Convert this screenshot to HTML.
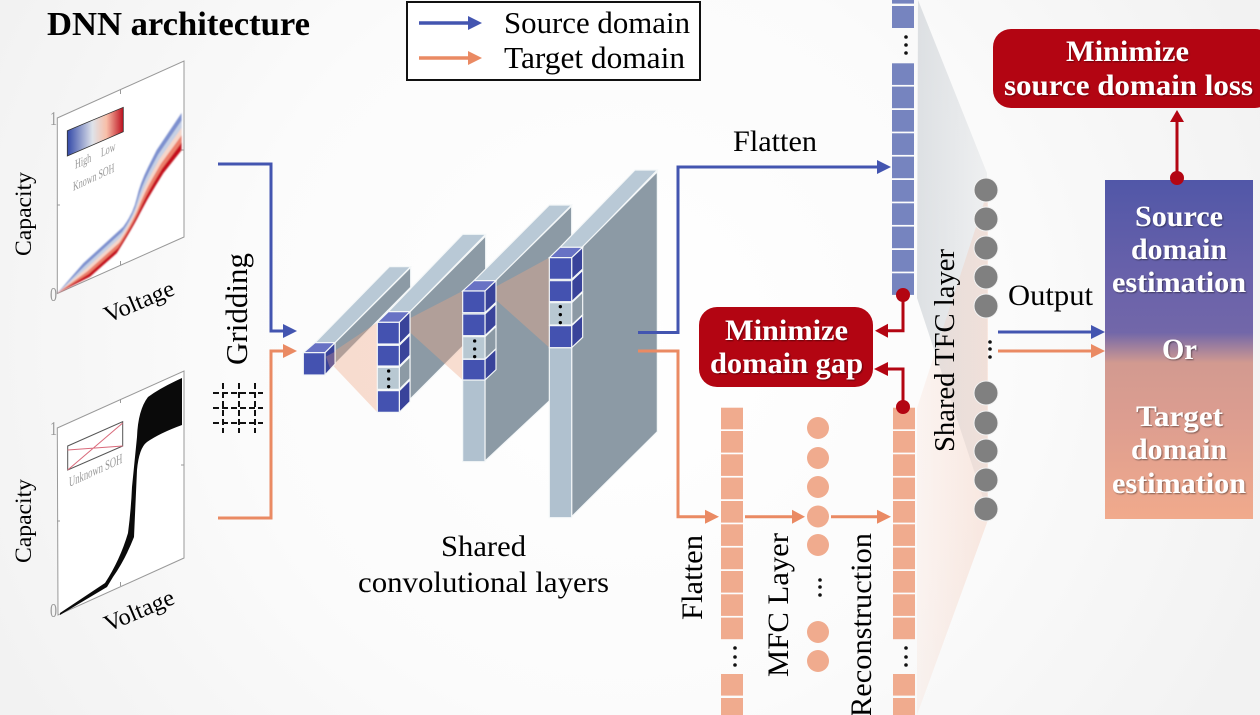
<!DOCTYPE html>
<html><head><meta charset="utf-8"><style>
html,body{margin:0;padding:0;width:1260px;height:715px;overflow:hidden;background:#f4f4f4}
svg{display:block}
text{font-family:"Liberation Serif",serif;fill:#000}
.w text{fill:#fff;font-weight:bold;font-size:30px}
</style></head><body>
<svg xmlns="http://www.w3.org/2000/svg" width="1260" height="715" viewBox="0 0 1260 715">
<defs>
<radialGradient id="bg" gradientUnits="userSpaceOnUse" cx="620" cy="340" r="700"><stop offset="0" stop-color="#ffffff"/><stop offset=".55" stop-color="#fbfbfb"/><stop offset="1" stop-color="#f2f2f2"/></radialGradient>
<linearGradient id="cb"><stop offset="0" stop-color="#3349a8"/><stop offset=".45" stop-color="#dfe3ea"/><stop offset=".7" stop-color="#f8bfa8"/><stop offset="1" stop-color="#bd0f1e"/></linearGradient>
<linearGradient id="out" x1="0" y1="0" x2="0" y2="1"><stop offset="0" stop-color="#5157a8"/><stop offset=".3" stop-color="#6a62aa"/><stop offset=".45" stop-color="#7267a9"/><stop offset=".54" stop-color="#d29a90"/><stop offset=".7" stop-color="#dc9d90"/><stop offset="1" stop-color="#f1aa8c"/></linearGradient>
<linearGradient id="gw" x1="0" y1="0" x2="1" y2="0"><stop offset="0" stop-color="#c9ced3" stop-opacity=".6"/><stop offset="1" stop-color="#c9ced3" stop-opacity=".25"/></linearGradient>
<linearGradient id="pw" x1="0" y1="0" x2="1" y2="0"><stop offset="0" stop-color="#f3b9a0" stop-opacity=".12"/><stop offset="1" stop-color="#f3b9a0" stop-opacity=".3"/></linearGradient>
<filter id="sh" x="-5%" y="-20%" width="110%" height="140%"><feDropShadow dx="1" dy="1" stdDeviation=".8" flood-color="#000" flood-opacity=".45"/></filter>
<filter id="b" x="-5%" y="-5%" width="110%" height="110%"><feGaussianBlur stdDeviation=".8"/></filter>
<clipPath id="band"><path d="M57.3 293.3L90 276.7L116.7 253.3Q133.3 226.7 140 213.3Q146.7 200 155 186.7L163.3 173.3L181.7 150L181.7 100L57.3 100Z"/></clipPath>
</defs>
<rect width="1260" height="715" fill="url(#bg)"/>

<!-- title + legend -->
<text x="47" y="35" font-size="34" font-weight="bold" textLength="263" lengthAdjust="spacingAndGlyphs">DNN architecture</text>
<rect x="407" y="2" width="293" height="78" fill="#fff" stroke="#111" stroke-width="2"/>
<path d="M419 23H470" stroke="#4355b0" stroke-width="3.5" fill="none"/><path d="M468 16L482 23L468 30Z" fill="#4355b0"/>
<path d="M419 58H470" stroke="#ea8a63" stroke-width="3.5" fill="none"/><path d="M468 51L482 58L468 65Z" fill="#ea8a63"/>
<text x="504" y="33" font-size="30.8" textLength="186" lengthAdjust="spacingAndGlyphs">Source domain</text>
<text x="504" y="68" font-size="30.8" textLength="181" lengthAdjust="spacingAndGlyphs">Target domain</text>

<!-- plot 1 -->
<polygon points="57.3,118 184,61 184,237 57.3,293.5" fill="#fff" stroke="#999" stroke-width="1"/>
<path d="M120.5 90v4M120.5 265v-4M57 205h3M184 150h-3" stroke="#999" fill="none"/>
<g filter="url(#b)"><g clip-path="url(#band)">
<path d="M57.3 293.3L83.3 263.3L123.3 226.7Q133.3 213.3 136.7 198.3Q140 183.3 148.3 166.7L156.7 150L181.7 112.7L181.7 300L57.3 300Z" fill="#7d90cf"/>
<path d="M57.3 293.3L84.6 266L122 232Q133.3 216 137.3 201.3Q141.3 186.6 149.6 170.6L158 154.7L181.7 120.2L181.7 300L57.3 300Z" fill="#c6d0e4"/>
<path d="M57.3 293.3L86 268.7L120.7 237.3Q133.3 218.7 138 204.3Q142.7 190 151 174.6L159.3 159.3L181.7 127.6L181.7 300L57.3 300Z" fill="#f6d6c9"/>
<path d="M57.3 293.3L87.3 271.4L119.3 242.7Q133.3 221.3 138.7 207.3Q144 193.3 152.3 178.6L160.7 164L181.7 135.1L181.7 300L57.3 300Z" fill="#ec7f6b"/>
<path d="M57.3 293.3L88.7 274L118 248Q133.3 224 139.3 210.3Q145.4 196.7 153.7 182.7L162 168.7L181.7 142.5L181.7 300L57.3 300Z" fill="#c5101f"/>
</g></g>
<polygon points="67.3,130.7 123.3,107.3 123.3,131.7 67.3,156" fill="url(#cb)" stroke="#333" stroke-width=".8"/>
<g font-size="13">
<text transform="matrix(.9,-.42,0,1,75,169)" style="fill:#999" textLength="18" lengthAdjust="spacingAndGlyphs">High</text>
<text transform="matrix(.9,-.42,0,1,101,157)" style="fill:#999" textLength="16" lengthAdjust="spacingAndGlyphs">Low</text>
<text transform="matrix(.9,-.42,0,1,73,191)" style="fill:#999" textLength="46" lengthAdjust="spacingAndGlyphs">Known SOH</text>
</g>
<text x="50" y="125" font-size="20" style="fill:#999" textLength="7" lengthAdjust="spacingAndGlyphs">1</text>
<text x="50" y="301" font-size="20" style="fill:#999" textLength="7" lengthAdjust="spacingAndGlyphs">0</text>
<text transform="translate(31,256) rotate(-90)" font-size="23.5" textLength="84" lengthAdjust="spacingAndGlyphs">Capacity</text>
<text transform="translate(108,323) rotate(-23)" font-size="23.5" textLength="74" lengthAdjust="spacingAndGlyphs">Voltage</text>

<!-- plot 2 -->
<polygon points="57.3,428 184,371 184,558 58,615" fill="#fff" stroke="#999" stroke-width="1"/>
<path d="M120.5 399v4M120.5 586v-4M57 521h3M184 465h-3" stroke="#999" fill="none"/>
<path d="M60 613L105 583Q120 560 128 533Q131 510 132 487L137 437Q138 410 148 397Q160 388 182 378V425Q160 433 147 442Q139 448 137 470L134 537Q125 560 113 577L107 587L60 615Z" fill="#0a0a0a"/>
<polygon points="67.7,446 122.7,421.7 122.7,446 67.7,470" fill="none" stroke="#555" stroke-width="1"/>
<path d="M67.7 470L122.7 423M67.7 450L122.7 446" stroke="#d9697a" stroke-width="1" fill="none"/>
<text transform="matrix(.92,-.42,0,1,69,487)" font-size="14" style="fill:#999" textLength="58" lengthAdjust="spacingAndGlyphs">Unknown SOH</text>
<text x="50" y="435" font-size="20" style="fill:#999" textLength="7" lengthAdjust="spacingAndGlyphs">1</text>
<text x="50" y="617" font-size="20" style="fill:#999" textLength="7" lengthAdjust="spacingAndGlyphs">0</text>
<text transform="translate(31,563) rotate(-90)" font-size="23.5" textLength="84" lengthAdjust="spacingAndGlyphs">Capacity</text>
<text transform="translate(108,632) rotate(-23)" font-size="23.5" textLength="74" lengthAdjust="spacingAndGlyphs">Voltage</text>

<!-- gridding -->
<text transform="translate(247,365) rotate(-90)" font-size="31" textLength="112" lengthAdjust="spacingAndGlyphs">Gridding</text>
<path d="M213 393H263M213 408H263M213 423H263M223 383V433M239 383V433M255 383V433" stroke="#111" stroke-width="2" stroke-dasharray="6 3" fill="none"/>
<path d="M218 164H271V331H285" stroke="#4355b0" stroke-width="3" fill="none"/><path d="M283 324L297 331L283 338Z" fill="#4355b0"/>
<path d="M218 518H271V351H285" stroke="#ea8a63" stroke-width="3" fill="none"/><path d="M283 344L297 351L283 358Z" fill="#ea8a63"/>

<!-- conv layers: zoom coords -->
<g transform="translate(290,160) scale(.33333)" stroke="#f4f7f8" stroke-width="3.5">
<polygon points="75,548 298,320 362,320 135,548" fill="#b9c9d6"/>
<polygon points="135,548 362,322 362,382 135,612" fill="#8c9aa5"/>
<polygon points="295,455 518,223 587,223 360,455" fill="#b9c9d6"/>
<polygon points="360,455 587,228 587,490 360,718" fill="#8c9aa5"/>
<polygon points="552,362 778,135 845,135 618,362" fill="#b9c9d6"/>
<polygon points="585,393 845,138 845,660 585,903" fill="#8c9aa5"/>
<rect x="518" y="660" width="67" height="245" fill="#b0c1cf"/>
<polygon points="810,262 1035,30 1102,30 878,262" fill="#b9c9d6"/>
<polygon points="845,293 1102,35 1102,815 845,1070" fill="#8c9aa5"/>
<rect x="778" y="563" width="67" height="510" fill="#b0c1cf"/>
<g stroke="none" fill="#f0a787" fill-opacity=".38">
<polygon points="108,590 262,487 262,757 130,618"/>
<polygon points="330,490 518,393 518,660"/>
<polygon points="590,395 778,293 778,563"/>
</g>
<polygon points="40,578 75,548 135,548 105,578" fill="#6872c4"/>
<polygon points="105,578 135,548 135,612 105,645" fill="#39439a"/>
<rect x="40" y="578" width="65" height="67" fill="#4452b0"/>
<g fill="#f0a787" fill-opacity=".3" stroke="none"><polygon points="108,590 135,575 135,612 120,625"/></g>
<polygon points="262,487 295,455 360,455 328,487" fill="#6872c4"/>
<polygon points="328,487 360,455 360,520 328,552" fill="#39439a"/>
<polygon points="328,556 360,524 360,586 328,618" fill="#39439a"/>
<polygon points="328,622 360,590 360,656 328,688" fill="#8c9aa5"/>
<polygon points="328,692 360,660 360,725 328,757" fill="#39439a"/>
<rect x="262" y="487" width="66" height="65" fill="#4452b0"/>
<rect x="262" y="556" width="66" height="62" fill="#4452b0"/>
<rect x="262" y="622" width="66" height="66" fill="#b8c8d2"/>
<rect x="262" y="692" width="66" height="65" fill="#4452b0"/>
<polygon points="518,393 552,362 618,362 585,393" fill="#6872c4"/>
<polygon points="585,393 618,362 618,427 585,458" fill="#39439a"/>
<polygon points="585,462 618,431 618,496 585,527" fill="#39439a"/>
<polygon points="585,530 618,499 618,566 585,597" fill="#8c9aa5"/>
<polygon points="585,598 618,567 618,629 585,660" fill="#39439a"/>
<rect x="518" y="393" width="67" height="65" fill="#4452b0"/>
<rect x="518" y="462" width="67" height="65" fill="#4452b0"/>
<rect x="518" y="530" width="67" height="67" fill="#b8c8d2"/>
<rect x="518" y="598" width="67" height="62" fill="#4452b0"/>
<polygon points="778,293 810,262 878,262 845,293" fill="#6872c4"/>
<polygon points="845,293 878,262 878,327 845,358" fill="#39439a"/>
<polygon points="845,362 878,331 878,394 845,425" fill="#39439a"/>
<polygon points="845,428 878,397 878,464 845,495" fill="#8c9aa5"/>
<polygon points="845,497 878,466 878,532 845,563" fill="#39439a"/>
<rect x="778" y="293" width="67" height="65" fill="#4452b0"/>
<rect x="778" y="362" width="67" height="63" fill="#4452b0"/>
<rect x="778" y="428" width="67" height="67" fill="#b8c8d2"/>
<rect x="778" y="497" width="67" height="66" fill="#4452b0"/>
<g fill="#000" stroke="none">
<circle cx="296" cy="633" r="5"/><circle cx="296" cy="657" r="5"/><circle cx="296" cy="680" r="5"/>
<circle cx="554" cy="543" r="5"/><circle cx="554" cy="567" r="5"/><circle cx="554" cy="590" r="5"/>
<circle cx="811" cy="440" r="5"/><circle cx="811" cy="464" r="5"/><circle cx="811" cy="488" r="5"/>
</g>
</g>
<text x="441" y="556" font-size="30" textLength="85" lengthAdjust="spacingAndGlyphs">Shared</text>
<text x="358" y="592" font-size="30" textLength="251" lengthAdjust="spacingAndGlyphs">convolutional layers</text>

<!-- wedges -->
<polygon points="918,0 987,173 987,510 917,298" fill="url(#gw)"/>
<polygon points="917,408 988,190 988,520 917,715" fill="url(#pw)"/>

<!-- flatten paths -->
<path d="M638 332.5H678V167H878" stroke="#4355b0" stroke-width="3" fill="none"/><path d="M877 160L891 167L877 174Z" fill="#4355b0"/>
<path d="M638 351H678V516.7H706" stroke="#ea8a63" stroke-width="3" fill="none"/><path d="M705 509.7L719 516.7L705 523.7Z" fill="#ea8a63"/>
<text x="733" y="151" font-size="30" textLength="84" lengthAdjust="spacingAndGlyphs">Flatten</text>

<!-- blue column -->
<g fill="#7684bf">
<rect x="892" y="-18" width="22" height="21.6"/><rect x="892" y="6" width="22" height="22"/>
<rect x="892" y="63.3" width="22" height="21.6"/><rect x="892" y="86.6" width="22" height="21.6"/><rect x="892" y="110" width="22" height="21.6"/><rect x="892" y="133.3" width="22" height="21.6"/><rect x="892" y="156.6" width="22" height="21.6"/><rect x="892" y="180" width="22" height="21.6"/><rect x="892" y="203.3" width="22" height="21.6"/><rect x="892" y="226.6" width="22" height="21.6"/><rect x="892" y="250" width="22" height="21.6"/><rect x="892" y="273.3" width="22" height="21.6"/>
</g>
<g fill="#111"><circle cx="906" cy="37" r="1.8"/><circle cx="906" cy="45" r="1.8"/><circle cx="906" cy="53" r="1.8"/></g>

<!-- orange columns -->
<g fill="#f0ab8e">
<rect x="721" y="407.7" width="22" height="21.6"/><rect x="721" y="431" width="22" height="21.6"/><rect x="721" y="454.3" width="22" height="21.6"/><rect x="721" y="477.6" width="22" height="21.6"/><rect x="721" y="501" width="22" height="21.6"/><rect x="721" y="524.3" width="22" height="21.6"/><rect x="721" y="547.6" width="22" height="21.6"/><rect x="721" y="571" width="22" height="21.6"/><rect x="721" y="594.3" width="22" height="21.6"/><rect x="721" y="617.6" width="22" height="21.6"/>
<rect x="721" y="674" width="22" height="21.6"/><rect x="721" y="698" width="22" height="21.6"/>
<rect x="893" y="407.7" width="22" height="21.6"/><rect x="893" y="431" width="22" height="21.6"/><rect x="893" y="454.3" width="22" height="21.6"/><rect x="893" y="477.6" width="22" height="21.6"/><rect x="893" y="501" width="22" height="21.6"/><rect x="893" y="524.3" width="22" height="21.6"/><rect x="893" y="547.6" width="22" height="21.6"/><rect x="893" y="571" width="22" height="21.6"/><rect x="893" y="594.3" width="22" height="21.6"/><rect x="893" y="617.6" width="22" height="21.6"/>
<rect x="893" y="674" width="22" height="21.6"/><rect x="893" y="698" width="22" height="21.6"/>
<circle cx="818" cy="428" r="11"/><circle cx="818" cy="458" r="11"/><circle cx="818" cy="487" r="11"/><circle cx="818" cy="516.5" r="11"/><circle cx="818" cy="545" r="11"/><circle cx="818" cy="632" r="11"/><circle cx="818" cy="661" r="11"/>
</g>
<g fill="#111">
<circle cx="735" cy="648" r="1.8"/><circle cx="735" cy="657" r="1.8"/><circle cx="735" cy="665" r="1.8"/>
<circle cx="906" cy="648" r="1.8"/><circle cx="906" cy="657" r="1.8"/><circle cx="906" cy="665" r="1.8"/>
<circle cx="820" cy="580" r="1.8"/><circle cx="820" cy="587" r="1.8"/><circle cx="820" cy="595" r="1.8"/>
</g>
<path d="M745 516.7H793" stroke="#ea8a63" stroke-width="3" fill="none"/><path d="M792 509.7L805 516.7L792 523.7Z" fill="#ea8a63"/>
<path d="M831 516.7H878" stroke="#ea8a63" stroke-width="3" fill="none"/><path d="M877 509.7L891 516.7L877 523.7Z" fill="#ea8a63"/>
<text transform="translate(702,620) rotate(-90)" font-size="30" textLength="85" lengthAdjust="spacingAndGlyphs">Flatten</text>
<text transform="translate(788,677) rotate(-90)" font-size="30" textLength="144" lengthAdjust="spacingAndGlyphs">MFC Layer</text>
<text transform="translate(871,717) rotate(-90)" font-size="30" textLength="184" lengthAdjust="spacingAndGlyphs">Reconstruction</text>
<text transform="translate(954,452) rotate(-90)" font-size="29" textLength="203" lengthAdjust="spacingAndGlyphs">Shared TFC layer</text>

<!-- gray neurons -->
<g fill="#808080" stroke="#f2f2f2" stroke-width="1">
<circle cx="986" cy="190" r="12"/><circle cx="986" cy="219" r="12"/><circle cx="986" cy="248" r="12"/><circle cx="986" cy="277" r="12"/><circle cx="986" cy="306" r="12"/>
<circle cx="986" cy="393" r="12"/><circle cx="986" cy="423" r="12"/><circle cx="986" cy="451" r="12"/><circle cx="986" cy="480" r="12"/><circle cx="986" cy="509" r="12"/>
</g>
<g fill="#111"><circle cx="990" cy="342" r="1.8"/><circle cx="990" cy="349" r="1.8"/><circle cx="990" cy="357" r="1.8"/></g>

<!-- output -->
<text x="1008" y="305" font-size="30" textLength="85" lengthAdjust="spacingAndGlyphs">Output</text>
<path d="M998 332H1092" stroke="#4355b0" stroke-width="3" fill="none"/><path d="M1091 325L1105 332L1091 339Z" fill="#4355b0"/>
<path d="M998 351H1092" stroke="#ea8a63" stroke-width="3" fill="none"/><path d="M1091 344L1105 351L1091 358Z" fill="#ea8a63"/>
<rect x="1105" y="180" width="148" height="339" fill="url(#out)"/>

<!-- red connectors -->
<g stroke="#b30512" stroke-width="3" fill="none">
<path d="M903 295V330.7H886"/><path d="M903 407V369H886"/><path d="M1177 178V120"/>
</g>
<g fill="#b30512">
<circle cx="903" cy="295" r="7"/><circle cx="903" cy="407" r="7"/><circle cx="1177" cy="178" r="7"/>
<path d="M888 323.7L875 330.7L888 337.7Z"/><path d="M888 362L874 369L888 376Z"/><path d="M1170 122L1177 110L1184 122Z"/>
<rect x="699" y="307" width="174" height="80" rx="18"/>
<rect x="993" y="29" width="280" height="79" rx="18"/>
</g>
<g class="w" filter="url(#sh)">
<text x="725" y="340" textLength="123" lengthAdjust="spacingAndGlyphs">Minimize</text>
<text x="710" y="373" textLength="153" lengthAdjust="spacingAndGlyphs">domain gap</text>
<text x="1066" y="61" textLength="123" lengthAdjust="spacingAndGlyphs">Minimize</text>
<text x="1004" y="95" textLength="249" lengthAdjust="spacingAndGlyphs">source domain loss</text>
<text x="1135" y="226" textLength="88" lengthAdjust="spacingAndGlyphs">Source</text>
<text x="1131" y="259" textLength="96" lengthAdjust="spacingAndGlyphs">domain</text>
<text x="1112" y="292" textLength="134" lengthAdjust="spacingAndGlyphs">estimation</text>
<text x="1162" y="359" textLength="35" lengthAdjust="spacingAndGlyphs">Or</text>
<text x="1136" y="426" textLength="87" lengthAdjust="spacingAndGlyphs">Target</text>
<text x="1131" y="459" textLength="96" lengthAdjust="spacingAndGlyphs">domain</text>
<text x="1112" y="493" textLength="134" lengthAdjust="spacingAndGlyphs">estimation</text>
</g>
</svg>
</body></html>
